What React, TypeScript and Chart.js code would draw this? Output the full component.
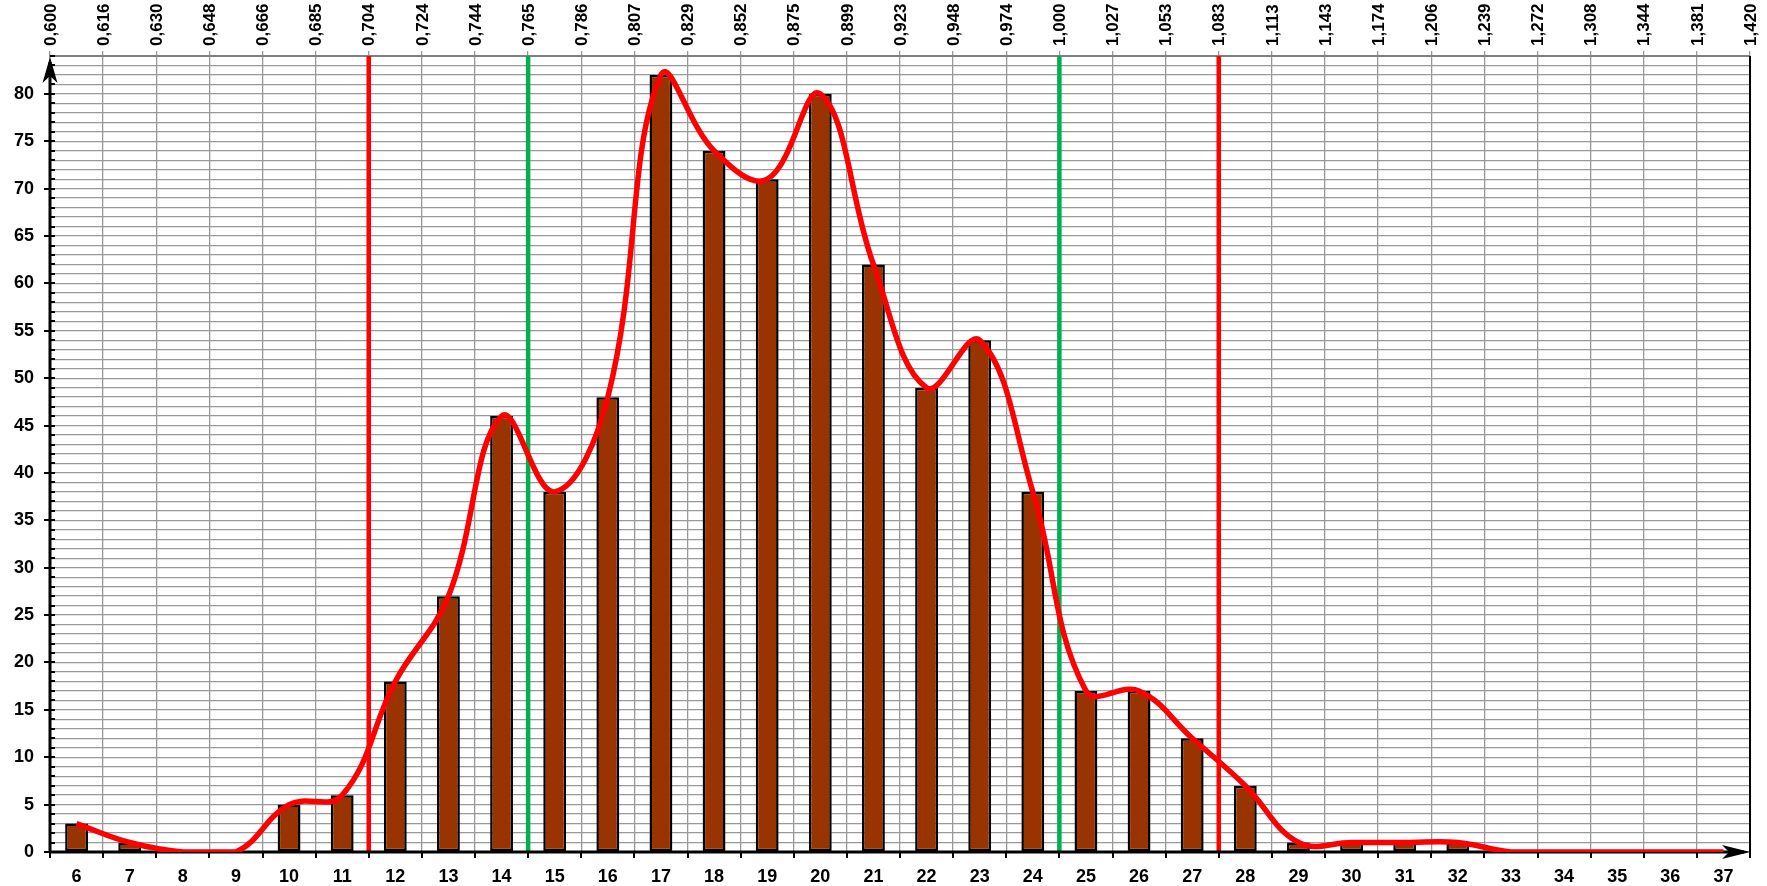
import React, { useEffect, useRef } from 'react';
import { Chart, registerables } from 'chart.js';

Chart.register(...registerables);

const categories = ['6', '7', '8', '9', '10', '11', '12', '13', '14', '15', '16', '17', '18', '19', '20', '21', '22', '23', '24', '25', '26', '27', '28', '29', '30', '31', '32', '33', '34', '35', '36', '37'];
const counts = [3, 1, 0, 0, 5, 6, 18, 27, 46, 38, 48, 82, 74, 71, 80, 62, 49, 54, 38, 17, 17, 12, 7, 1, 1, 1, 1, 0, 0, 0, 0, 0];
const curve = [3, 1, 0, 0, 5, 6, 18, 27, 46, 38, 48, 82, 74, 71, 80, 62, 49, 54, 38, 17, 17, 12, 7, 1, 1, 1, 1, 0, 0, 0, 0, 0];
const topLabels = ['0,600', '0,616', '0,630', '0,648', '0,666', '0,685', '0,704', '0,724', '0,744', '0,765', '0,786', '0,807', '0,829', '0,852', '0,875', '0,899', '0,923', '0,948', '0,974', '1,000', '1,027', '1,053', '1,083', '1,113', '1,143', '1,174', '1,206', '1,239', '1,272', '1,308', '1,344', '1,381', '1,420'];
const redLimits = ['0,704', '1,083'];
const greenLimits = ['0,765', '1,000'];
const yMax = 84;

const FONT_FAMILY = '"Liberation Sans", Arial, sans-serif';

const decorPlugin = {
  id: 'decor',
  beforeDatasetsDraw(chart: any) {
    const { ctx, chartArea, scales } = chart;
    const x2 = scales.x2;
    const y = scales.y;
    const L = chartArea.left;
    const R = chartArea.right;
    const T = chartArea.top;
    const B = chartArea.bottom;
    ctx.save();
    // reference lines
    const drawRef = (labels: string[], color: string) => {
      labels.forEach((l) => {
        const i = topLabels.indexOf(l);
        const px = x2.getPixelForValue(i);
        ctx.strokeStyle = color;
        ctx.lineWidth = 4.5;
        ctx.beginPath();
        ctx.moveTo(px, T);
        ctx.lineTo(px, B);
        ctx.stroke();
      });
    };
    drawRef(redLimits, '#ff0000');
    drawRef(greenLimits, '#00b050');

    // right border
    ctx.strokeStyle = '#000';
    ctx.lineWidth = 2;
    ctx.beginPath();
    ctx.moveTo(R, T);
    ctx.lineTo(R, B);
    ctx.stroke();

    // y ticks
    ctx.lineWidth = 2;
    for (let v = 0; v <= yMax; v++) {
      const py = Math.round(y.getPixelForValue(v));
      ctx.beginPath();
      if (v % 5 === 0) {
        ctx.moveTo(L - 6, py);
        ctx.lineTo(L + 5, py);
      } else {
        ctx.moveTo(L, py);
        ctx.lineTo(L + 5, py);
      }
      ctx.stroke();
    }
    // x ticks
    for (let i = 0; i < topLabels.length; i++) {
      const px = Math.round(x2.getPixelForValue(i));
      ctx.beginPath();
      ctx.moveTo(px, B);
      ctx.lineTo(px, B + 6);
      ctx.stroke();
    }
    // axes lines
    ctx.lineWidth = 3;
    ctx.beginPath();
    ctx.moveTo(L, B + 1);
    ctx.lineTo(L, T + 6);
    ctx.stroke();
    ctx.beginPath();
    ctx.moveTo(L - 1, B);
    ctx.lineTo(R - 6, B);
    ctx.stroke();
    // arrows
    ctx.fillStyle = '#000';
    ctx.beginPath();
    ctx.moveTo(L, T + 1);
    ctx.lineTo(L - 7.5, T + 27);
    ctx.lineTo(L, T + 20);
    ctx.lineTo(L + 7.5, T + 27);
    ctx.closePath();
    ctx.fill();
    ctx.beginPath();
    ctx.moveTo(R, B);
    ctx.lineTo(R - 28, B - 7);
    ctx.lineTo(R - 21, B);
    ctx.lineTo(R - 28, B + 7);
    ctx.closePath();
    ctx.fill();

    // top labels
    ctx.fillStyle = '#000';
    ctx.font = `bold 17px ${FONT_FAMILY}`;
    ctx.textAlign = 'left';
    ctx.textBaseline = 'middle';
    for (let i = 0; i < topLabels.length; i++) {
      const px = x2.getPixelForValue(i);
      ctx.save();
      ctx.translate(px + 1, T - 10);
      ctx.rotate(-Math.PI / 2);
      ctx.fillText(topLabels[i], 0, 0);
      ctx.restore();
    }
    ctx.restore();
  },
};

export default function App() {
  const ref = useRef<HTMLCanvasElement>(null);
  useEffect(() => {
    const canvas = ref.current;
    if (!canvas) return;
    const chart = new Chart(canvas, {
      type: 'bar',
      data: {
        labels: categories,
        datasets: [
          {
            type: 'line',
            label: 'curve',
            data: curve,
            borderColor: '#ff0000',
            borderWidth: 5.5,
            pointRadius: 0,
            tension: 0.4,
            fill: false,
            order: 0,
          } as any,
          {
            type: 'bar',
            label: 'count',
            data: counts,
            backgroundColor: '#993300',
            borderColor: '#000000',
            borderWidth: 2.5,
            borderSkipped: false,
            categoryPercentage: 1,
            barPercentage: 0.43,
            order: 1,
          } as any,
        ],
      },
      plugins: [decorPlugin],
      options: {
        animation: false,
        responsive: true,
        maintainAspectRatio: false,
        layout: { padding: { left: 0, right: 17, top: 0, bottom: 0 } },
        plugins: {
          legend: { display: false },
          tooltip: { enabled: false },
          title: { display: false },
        },
        scales: {
          x: {
            type: 'category',
            position: 'bottom',
            offset: true,
            grid: { display: false },
            border: { display: false },
            ticks: {
              color: '#000',
              padding: 6,
              maxRotation: 0,
              autoSkip: false,
              font: { family: FONT_FAMILY, size: 18, weight: 'bold' },
            },
            afterFit: (s: any) => {
              s.height = 34;
            },
          },
          x2: {
            type: 'linear',
            position: 'top',
            offset: false,
            min: 0,
            max: topLabels.length - 1,
            grid: {
              offset: false,
              color: '#999999',
              lineWidth: 1.3,
              drawTicks: true,
              tickLength: 5,
              tickColor: '#999999',
            },
            border: { display: true, color: '#808080', width: 2 },
            ticks: { display: false, stepSize: 1, autoSkip: false },
            afterFit: (s: any) => {
              s.height = 56;
            },
          },
          y: {
            type: 'linear',
            min: 0,
            max: yMax,
            grid: { color: '#999999', lineWidth: 1.3, drawTicks: false },
            border: { display: false },
            ticks: {
              stepSize: 1,
              autoSkip: false,
              padding: 16,
              color: '#000',
              font: { family: FONT_FAMILY, size: 18, weight: 'bold' },
              callback: (v: any) => (Number(v) % 5 === 0 ? String(v) : ''),
            },
            afterFit: (s: any) => {
              s.width = 50;
            },
          },
        },
      } as any,
    });
    return () => chart.destroy();
  }, []);
  return (
    <div style={{ position: 'fixed', left: 0, top: 0, width: 1767, height: 886, background: '#fff' }}>
      <canvas ref={ref} />
    </div>
  );
}
